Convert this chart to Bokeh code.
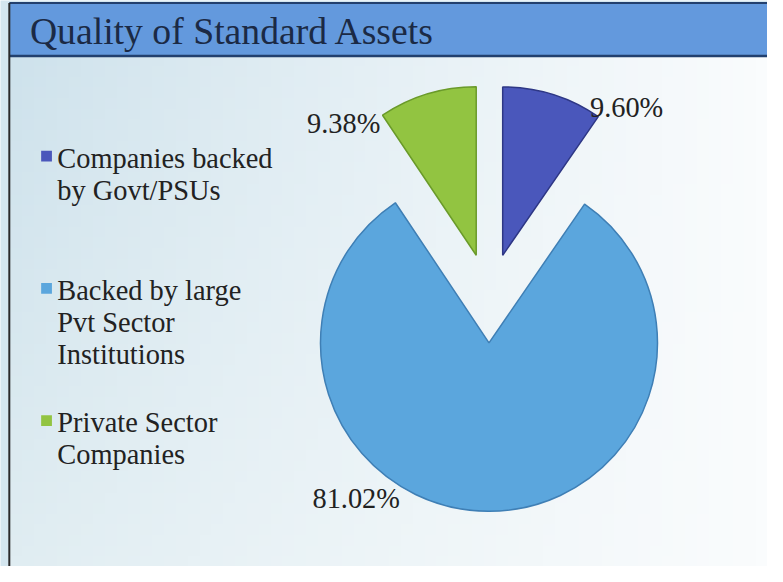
import numpy as np
from bokeh.plotting import figure
from bokeh.models import Range1d, ColumnDataSource
from bokeh.core.properties import value
from bokeh.embed import file_html
from bokeh.resources import INLINE

# ---------------- data ----------------
title_text = "Quality of Standard Assets"
categories = ["Companies backed\nby Govt/PSUs",
              "Backed by large\nPvt Sector\nInstitutions",
              "Private Sector\nCompanies"]
shares = [9.60, 81.02, 9.38]
share_labels = ["9.60%", "81.02%", "9.38%"]
colors = ["#4a57bb", "#5ba6dd", "#92c441"]
edge_colors = ["#2e3785", "#3f7fb5", "#6a9a2a"]

# ---------------- layout (reference pixels) ----------------
W, H = 767, 566
RW, RH = 783, 582          # reference canvas size
K = W / RW                 # px scale
CX, CY = 499, 306          # pie centre in reference pixel coords
R = 172                    # pie radius (ref px)
EXPLODE = 46               # slice explosion distance (ref px)
FONT = value("Liberation Serif")


def X(rx):
    return rx - CX


def Y(ry):
    return CY - ry


def fs(px):
    return f"{px * K:.1f}px"


p = figure(width=W, height=H,
           x_range=Range1d(X(0), X(RW)), y_range=Range1d(Y(RH), Y(0)),
           output_backend="svg", toolbar_location=None, min_border=0,
           x_axis_location=None, y_axis_location=None,
           outline_line_color=None, background_fill_color="#d4e6ef",
           border_fill_color="#d4e6ef")
p.grid.visible = False

# panel background gradient
nx, ny = 64, 48
img = np.zeros((ny, nx), dtype=np.uint32)
view = img.view(dtype=np.uint8).reshape((ny, nx, 4))
tx = np.linspace(0, 1, nx)[None, :]
ty = np.linspace(0, 1, ny)[:, None]   # row 0 = bottom
left_top = np.array([206, 226, 236]); left_bot = np.array([224, 237, 242])
right_col = np.array([250, 252, 253])
for c in range(3):
    left = left_bot[c] * (1 - ty) + left_top[c] * ty
    view[:, :, c] = (left * (1 - tx ** 0.9) + right_col[c] * tx ** 0.9).astype(np.uint8)
view[:, :, 3] = 255
p.image_rgba(image=[img], x=X(9), y=Y(RH), dw=RW - 9, dh=RH - 57)

# title bar
p.quad(left=X(9), right=X(RW), top=Y(2.5), bottom=Y(57),
       fill_color="#6399dd", line_color=None)
p.segment(x0=X(9), y0=Y(57), x1=X(RW), y1=Y(57), line_color="#22406e", line_width=2.5)
p.segment(x0=X(9), y0=Y(2.5), x1=X(RW), y1=Y(2.5), line_color="#22406e", line_width=2)
p.segment(x0=X(9), y0=Y(2.5), x1=X(9), y1=Y(RH), line_color="#2a2a2a", line_width=2)
p.text(x=[X(30)], y=[Y(31)], text=[title_text], text_font=FONT,
       text_font_size=fs(38.5), text_color="#1b2a45", text_baseline="middle")

# pie slices (start at 12 o'clock, clockwise)
deg = np.array(shares) / sum(shares) * 360.0
cum = np.concatenate([[0], np.cumsum(deg)[:-1]])
start = np.radians(90 - cum)
end = np.radians(90 - cum - deg)
mid = (start + end) / 2
sx = EXPLODE * np.cos(mid)
sy = EXPLODE * np.sin(mid)
pie = ColumnDataSource(dict(x=sx, y=sy, start=start, end=end,
                            color=colors, edge=edge_colors))
p.wedge(x="x", y="y", radius=R, start_angle="start", end_angle="end",
        direction="clock", fill_color="color", line_color="edge",
        line_width=1.5, source=pie)

# percentage labels (polar offset from each slice vertex)
LABEL_POLAR = [(176, 59.6, "left"), (184, 240.4, "right"), (167, 125.9, "right")]
lx = [sx[i] + r * np.cos(np.radians(a)) for i, (r, a, _) in enumerate(LABEL_POLAR)]
ly = [sy[i] + r * np.sin(np.radians(a)) for i, (r, a, _) in enumerate(LABEL_POLAR)]
for i in range(len(shares)):
    p.text(x=[lx[i]], y=[ly[i]], text=[share_labels[i]], text_font=FONT,
           text_font_size=fs(29), text_color="#222222",
           text_align=LABEL_POLAR[i][2], text_baseline="middle")

# legend
LEG_Y = [162, 298, 434]     # first-line centre of each entry (ref px)
LINE_GAP = 33
p.scatter(x=[X(47)] * len(categories), y=[Y(v - 2) for v in LEG_Y],
          marker="square", size=11 * K, fill_color=colors, line_color=None)
tx_, ty_, tt_ = [], [], []
for i, cat in enumerate(categories):
    for j, line in enumerate(cat.split("\n")):
        tx_.append(X(58))
        ty_.append(Y(LEG_Y[i] + j * LINE_GAP))
        tt_.append(line)
p.text(x=tx_, y=ty_, text=tt_, text_font=FONT, text_font_size=fs(29),
       text_color="#222222", text_baseline="middle")

open("out.html", "w").write(file_html(p, INLINE))
